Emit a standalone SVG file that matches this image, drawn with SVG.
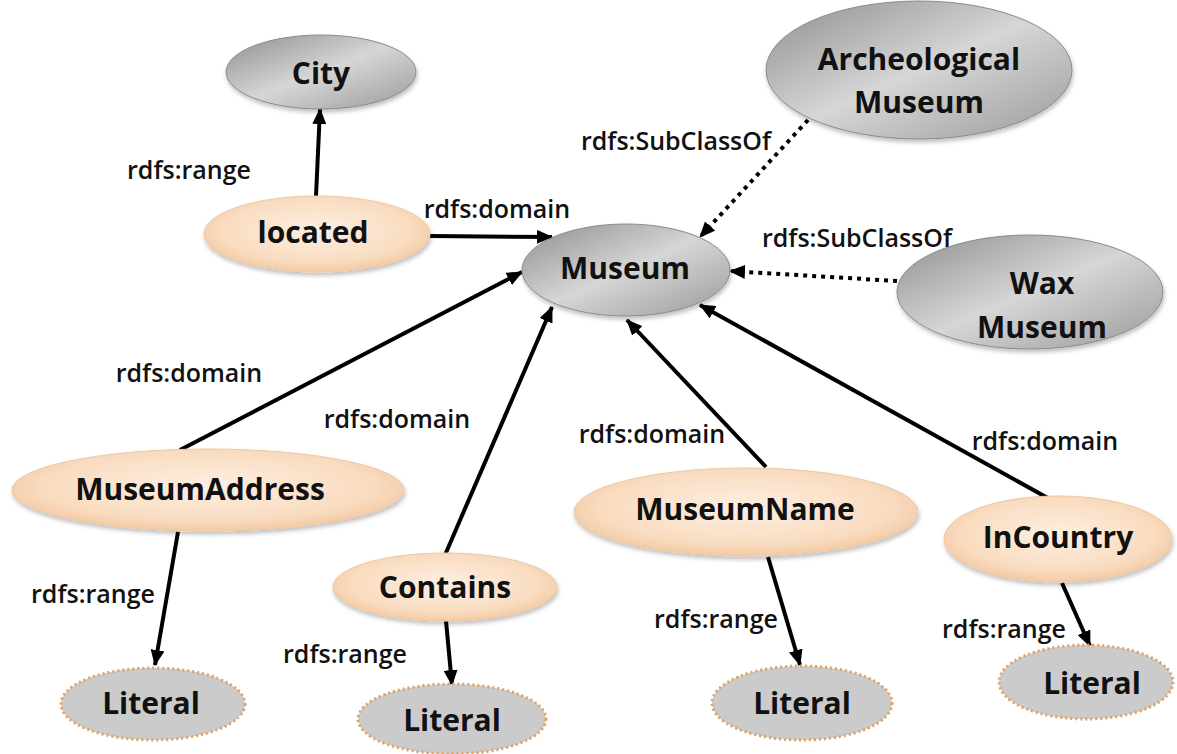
<svg xmlns="http://www.w3.org/2000/svg" width="1177" height="754" viewBox="0 0 1177 754">
<defs>
  <linearGradient id="gGray" x1="0" y1="0" x2="1" y2="1">
    <stop offset="0" stop-color="#8e8e8e"/>
    <stop offset="0.5" stop-color="#d6d6d6"/>
    <stop offset="1" stop-color="#9a9a9a"/>
  </linearGradient>
  <radialGradient id="gPeach" cx="0.5" cy="0.45" r="0.6">
    <stop offset="0" stop-color="#fdefe2"/>
    <stop offset="0.7" stop-color="#f9dcc0"/>
    <stop offset="1" stop-color="#f0c39a"/>
  </radialGradient>
  <filter id="shadow" x="-10%" y="-10%" width="120%" height="130%">
    <feDropShadow dx="1" dy="3" stdDeviation="2" flood-color="#000" flood-opacity="0.25"/>
  </filter>
  <marker id="arr" markerUnits="userSpaceOnUse" markerWidth="16" markerHeight="14" refX="15" refY="7" orient="auto">
    <path d="M0,0 L16,7 L0,14 z" fill="#000"/>
  </marker>
</defs>
<style>
  .cls { fill: url(#gGray); stroke: #8a8a8a; stroke-width: 1; filter: url(#shadow); }
  .prop { fill: url(#gPeach); stroke: #efc8a2; stroke-width: 1; filter: url(#shadow); }
  .lit { fill: #cbcbcb; stroke: #e0a060; stroke-width: 3; stroke-dasharray: 2 3; }
  .nt { font-family: "Open Sans", "Liberation Sans", sans-serif; font-weight: 700; font-size: 30px; fill: #111; text-anchor: middle; }
  .lb { font-family: "Open Sans", "Liberation Sans", sans-serif; font-weight: 600; font-size: 25px; fill: #111; text-anchor: middle; }
  .e { stroke: #000; stroke-width: 4; fill: none; marker-end: url(#arr); }
  .d { stroke: #000; stroke-width: 4; fill: none; stroke-dasharray: 4 5; marker-end: url(#arr); }
</style>

<g id="connectors">
  <line class="e" x1="316" y1="196" x2="320" y2="109"/>
  <line class="e" x1="430" y1="236" x2="552" y2="237"/>
  <line class="d" x1="808" y1="120" x2="700" y2="237"/>
  <line class="d" x1="897" y1="281" x2="730" y2="271"/>
  <line class="e" x1="180" y1="450" x2="522" y2="272"/>
  <line class="e" x1="445" y1="555" x2="552" y2="307"/>
  <line class="e" x1="766" y1="467" x2="627" y2="320"/>
  <line class="e" x1="1055" y1="502" x2="700" y2="305"/>
  <line class="e" x1="178" y1="532" x2="155" y2="665"/>
  <line class="e" x1="446" y1="621" x2="452" y2="685"/>
  <line class="e" x1="768" y1="557" x2="800" y2="665"/>
  <line class="e" x1="1062" y1="583" x2="1090" y2="646"/>
</g>

<g id="edge-labels">
  <text class="lb" x="189" y="179">rdfs:range</text>
  <text class="lb" x="497" y="218">rdfs:domain</text>
  <text class="lb" x="676" y="150">rdfs:SubClassOf</text>
  <text class="lb" x="857" y="247">rdfs:SubClassOf</text>
  <text class="lb" x="189" y="382">rdfs:domain</text>
  <text class="lb" x="397" y="428">rdfs:domain</text>
  <text class="lb" x="652" y="443">rdfs:domain</text>
  <text class="lb" x="1045" y="450">rdfs:domain</text>
  <text class="lb" x="93" y="603">rdfs:range</text>
  <text class="lb" x="345" y="663">rdfs:range</text>
  <text class="lb" x="716" y="628">rdfs:range</text>
  <text class="lb" x="1004" y="638">rdfs:range</text>
</g>

<g id="node-city"><ellipse class="cls" cx="321" cy="72" rx="95" ry="37"/><text class="nt" x="321" y="84">City</text></g>
<g id="node-located"><ellipse class="prop" cx="317" cy="234" rx="113" ry="38"/><text class="nt" x="313" y="243">located</text></g>
<g id="node-museum"><ellipse class="cls" cx="626" cy="270" rx="104" ry="46"/><text class="nt" x="625" y="279">Museum</text></g>
<g id="node-archeological"><ellipse class="cls" cx="919" cy="70" rx="153" ry="69"/><text class="nt" x="919" y="70">Archeological</text><text class="nt" x="919" y="113">Museum</text></g>
<g id="node-wax"><ellipse class="cls" cx="1030" cy="292" rx="133" ry="57"/><text class="nt" x="1042" y="294">Wax</text><text class="nt" x="1042" y="338">Museum</text></g>
<g id="node-museumaddress"><ellipse class="prop" cx="208" cy="490" rx="196" ry="41"/><text class="nt" x="200" y="500">MuseumAddress</text></g>
<g id="node-contains"><ellipse class="prop" cx="445" cy="587" rx="112" ry="34"/><text class="nt" x="445" y="598">Contains</text></g>
<g id="node-museumname"><ellipse class="prop" cx="746" cy="512" rx="172" ry="44"/><text class="nt" x="745" y="520">MuseumName</text></g>
<g id="node-incountry"><ellipse class="prop" cx="1058" cy="539" rx="114" ry="43"/><text class="nt" x="1058" y="548">InCountry</text></g>
<g id="node-literal1"><ellipse class="lit" cx="153" cy="704" rx="92" ry="36"/><text class="nt" x="151" y="714">Literal</text></g>
<g id="node-literal2"><ellipse class="lit" cx="452" cy="719" rx="94" ry="35"/><text class="nt" x="452" y="731">Literal</text></g>
<g id="node-literal3"><ellipse class="lit" cx="802" cy="703" rx="90" ry="37"/><text class="nt" x="802" y="714">Literal</text></g>
<g id="node-literal4"><ellipse class="lit" cx="1086" cy="682" rx="87" ry="37"/><text class="nt" x="1092" y="694">Literal</text></g>
</svg>
